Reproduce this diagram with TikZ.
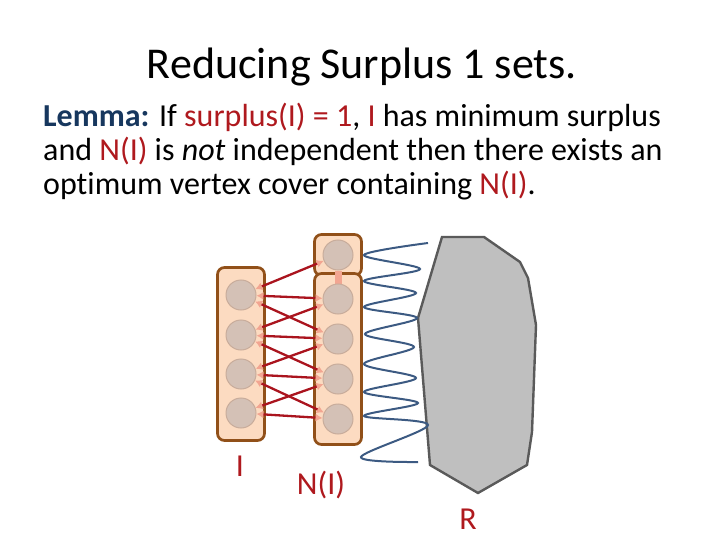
\documentclass[tikz,border=0pt]{standalone}
\usepackage{fontspec}
\setmainfont{Carlito}[Ligatures={NoCommon}]
\usetikzlibrary{arrows.meta,positioning,fit,backgrounds}
\definecolor{lemblue}{RGB}{23,55,94}
\definecolor{setred}{RGB}{175,25,30}
\definecolor{peach}{RGB}{252,219,193}
\definecolor{boxbrown}{RGB}{145,80,25}
\definecolor{vgray}{RGB}{212,193,182}
\definecolor{vedge}{RGB}{200,172,155}
\definecolor{tippink}{RGB}{242,165,145}
\definecolor{edgered}{RGB}{170,20,30}
\definecolor{springblue}{RGB}{60,90,130}
\definecolor{rfill}{RGB}{191,191,191}
\definecolor{rline}{RGB}{90,90,90}

\begin{document}
\begin{tikzpicture}[x=1pt, y=-1pt,
 vert/.style={circle, fill=vgray, draw=vedge, line width=1pt, minimum size=30pt, inner sep=0pt},
 setbox/.style={draw=boxbrown, line width=2.7pt, rounded corners=7pt, fill=peach, inner xsep=8pt},
 nbr/.style={edgered, line width=2.3pt, {Latex[color=tippink,length=7pt,width=8pt]}-{Latex[color=tippink,length=7pt,width=8pt]}},
 spring/.style={springblue, line width=2pt},
 lemtext/.style={anchor=base west, inner sep=0pt, font=\fontsize{32}{34}\selectfont},
 lbl/.style={anchor=base, text=setred, font=\fontsize{32}{34}\selectfont}]

 \useasboundingbox (0,0) rectangle (720,540);

 % --- Title and lemma ---
 \node[anchor=base, font=\fontsize{44}{50}\selectfont] (title) at (362,79) {Reducing Surplus 1 sets.};
 \node[lemtext] (lem1) at (43,127)
  {\textcolor{lemblue}{\textbf{Lemma:}} If \textcolor{setred}{surplus(I) = 1}, \textcolor{setred}{I} has minimum surplus};
 \node[lemtext] (lem2) at (43,161)
  {and \textcolor{setred}{N(I)} is \textit{not} independent then there exists an};
 \node[lemtext] (lem3) at (43,195)
  {optimum vertex cover containing \textcolor{setred}{N(I)}.};

 % --- I and N(I) ---
 \node[vert] (i1) at (241,295) {};
 \node[vert] (i2) at (241,335) {};
 \node[vert] (i3) at (241,374) {};
 \node[vert] (i4) at (241,413) {};
 \node[vert] (n0) at (338,255) {};
 \node[vert] (n1) at (338,299) {};
 \node[vert] (n2) at (338,339) {};
 \node[vert] (n3) at (338,379) {};
 \node[vert] (n4) at (338,419) {};

 \begin{scope}[on background layer]
 \node[setbox, fit=(i1)(i4), inner ysep=12pt] (setI) {};
 \node[setbox, fit=(n0), inner ysep=5pt] (setTop) {};
 \node[setbox, fit=(n1)(n4), inner ysep=10pt] (setN) {};
 \draw[tippink, line width=7pt] (n0) -- (n1);
 \end{scope}

 \draw[nbr] (i1) -- (n0);
 \draw[nbr] (i1) -- (n1);
 \draw[nbr] (i1) -- (n2);
 \draw[nbr] (i2) -- (n1);
 \draw[nbr] (i2) -- (n2);
 \draw[nbr] (i2) -- (n3);
 \draw[nbr] (i3) -- (n2);
 \draw[nbr] (i3) -- (n3);
 \draw[nbr] (i3) -- (n4);
 \draw[nbr] (i4) -- (n3);
 \draw[nbr] (i4) -- (n4);

 % --- rest of the graph ---
 \draw[rline, fill=rfill, line width=2.4pt] (442,237) -- (484,237) -- (520,262) -- (528,278) -- (536,325)
  -- (532,432) -- (527,465) -- (478,493) -- (430,465) -- (418,318) -- cycle;
 \draw[spring] plot[smooth, tension=0.55] coordinates {(428,243) (364,255) (420,269) (364,281) (416,293)
  (364,307) (417,318) (365,334) (414,347) (364,364) (416,378) (364,392) (418,403) (364,416) (428,425)
  (361,457) (418,462)};

 \node[lbl] (labI) at (240,476) {I};
 \node[lbl] (labN) at (321,494) {N(I)};
 \node[lbl] (labR) at (468,529) {R};
\end{tikzpicture}
\end{document}
